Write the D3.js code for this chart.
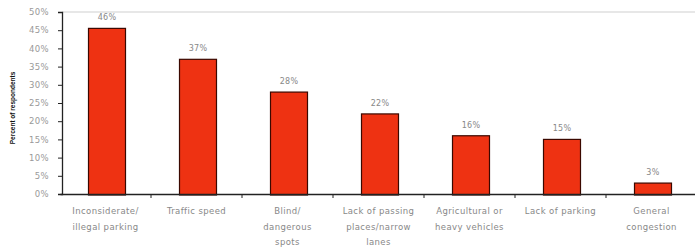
<!DOCTYPE html>
<html>
<head>
<meta charset="utf-8">
<script src="https://cdn.jsdelivr.net/npm/d3@7/dist/d3.min.js"></script>
<style>
  html, body { margin: 0; padding: 0; background: #fff; }
  svg { display: block; }
</style>
</head>
<body>
<svg id="chart" width="695" height="247"></svg>
<script>
const categories = [
  ["Inconsiderate/", "illegal parking"],
  ["Traffic speed"],
  ["Blind/", "dangerous", "spots"],
  ["Lack of passing", "places/narrow", "lanes"],
  ["Agricultural or", "heavy vehicles"],
  ["Lack of parking"],
  ["General", "congestion"]
];
const values = [45.5, 37, 28, 22, 16, 15, 3];
const valueLabels = ["46%", "37%", "28%", "22%", "16%", "15%", "3%"];
const yTicks = [0, 5, 10, 15, 20, 25, 30, 35, 40, 45, 50];
const yTitle = "Percent of respondents";

(function () {
const svg = d3.select("#chart");
const mLeft = 60, mRight = 697, mTop = 12, mBottom = 194;
const font = "DejaVu Sans, Verdana, sans-serif";

const x = d3.scaleBand().domain(d3.range(categories.length)).range([mLeft, mRight]).paddingInner(0).paddingOuter(0);
const y = d3.scaleLinear().domain([0, 50]).range([mBottom, mTop]);

// top gridline
svg.append("line")
  .attr("x1", mLeft + 2).attr("x2", 695)
  .attr("y1", y(50)).attr("y2", y(50))
  .attr("stroke", "#cfcfcf").attr("stroke-width", 1);

// bars
const bw = 37;
svg.selectAll("rect.bar").data(values).enter().append("rect")
  .attr("class", "bar")
  .attr("x", (d, i) => x(i) + x.bandwidth() / 2 - bw / 2 + 1.5)
  .attr("y", d => y(d))
  .attr("width", bw)
  .attr("height", d => y(0) - y(d) + 1)
  .attr("fill", "#ee3212")
  .attr("stroke", "#3a0800")
  .attr("stroke-width", 1.2);

// value labels
svg.selectAll("text.val").data(values).enter().append("text")
  .attr("x", (d, i) => x(i) + x.bandwidth() / 2 + 1.5)
  .attr("y", d => y(d) - 8)
  .attr("text-anchor", "middle")
  .attr("font-family", font)
  .attr("font-size", 8)
  .attr("letter-spacing", 0.3)
  .attr("fill", "#888")
  .text((d, i) => valueLabels[i]);

// y axis
const yAxis = d3.axisLeft(y).tickValues(yTicks).tickFormat(d => d + "%").tickSize(4).tickPadding(9);
const gy = svg.append("g").attr("transform", `translate(${mLeft + 2},0)`).call(yAxis);
gy.select(".domain").attr("stroke", "#222").attr("stroke-width", 1.3);
gy.selectAll(".tick line").attr("stroke", "#222");
gy.selectAll(".tick text").attr("fill", "#999")
  .attr("font-family", font).attr("font-size", 8.5).attr("letter-spacing", 0.4);

// x axis
const xAxis = d3.axisBottom(x).tickSize(0).tickFormat("");
const gx = svg.append("g").attr("transform", `translate(0,${mBottom})`).call(xAxis);
gx.select(".domain").attr("stroke", "#222").attr("stroke-width", 1.3);
svg.selectAll("line.xt").data(d3.range(1, categories.length)).enter().append("line")
  .attr("x1", d => x(d)).attr("x2", d => x(d))
  .attr("y1", mBottom).attr("y2", mBottom + 4)
  .attr("stroke", "#222").attr("stroke-width", 1);

// x labels
const xl = svg.selectAll("text.cat").data(categories).enter().append("text")
  .attr("text-anchor", "middle")
  .attr("font-family", font)
  .attr("font-size", 8.5)
  .attr("letter-spacing", 0.4)
  .attr("fill", "#888")
  .attr("transform", (d, i) => `translate(${x(i) + x.bandwidth() / 2},${mBottom + 20})`);
xl.selectAll("tspan").data(d => d).enter().append("tspan")
  .attr("x", 0).attr("y", (d, j) => j * 15.5)
  .text(d => d);

// y title
svg.append("text")
  .attr("transform", "translate(15,108) rotate(-90)")
  .attr("text-anchor", "middle")
  .attr("font-family", "Liberation Sans, Arial, sans-serif")
  .attr("font-weight", "bold")
  .attr("font-size", 6.5)
  .attr("fill", "#111")
  .text(yTitle);
})();
</script>
</body>
</html>
